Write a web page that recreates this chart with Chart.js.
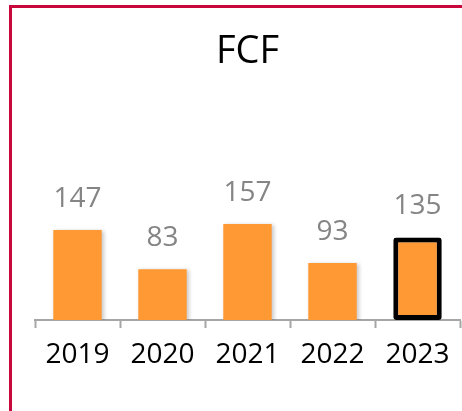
<!DOCTYPE html>
<html>
<head>
<meta charset="utf-8">
<script src="https://cdn.jsdelivr.net/npm/chart.js@4.4.1/dist/chart.umd.min.js"></script>
<style>
  html, body { margin: 0; padding: 0; background: #fff; }
  .wrap { position: relative; width: 462px; height: 411px; }
  .frame {
    position: absolute; left: 9px; top: 5px; right: -5px; bottom: -5px;
    border-left: 3px solid #c8083c; border-top: 3px solid #c8083c;
    pointer-events: none;
  }
  canvas { position: absolute; left: 0; top: 0; }
</style>
</head>
<body>
<div class="wrap">
  <canvas id="fcfChart" width="462" height="411"></canvas>
  <div class="frame"></div>
</div>
<script>
const years = ['2019', '2020', '2021', '2022', '2023'];
const fcfValues = [147, 83, 157, 93, 135];
const highlightYear = '2023';

const FONT = "'Open Sans', sans-serif";

// soft drop shadow under the bars
const barShadow = {
  id: 'barShadow',
  beforeDatasetsDraw(chart) {
    const ctx = chart.ctx;
    ctx.save();
    ctx.shadowColor = 'rgba(0,0,0,0.22)';
    ctx.shadowBlur = 4;
    ctx.shadowOffsetX = 2;
    ctx.shadowOffsetY = 1;
  },
  afterDatasetsDraw(chart) {
    chart.ctx.restore();
  }
};

// value labels above each bar
const valueLabels = {
  id: 'valueLabels',
  afterDraw(chart) {
    const ctx = chart.ctx;
    const meta = chart.getDatasetMeta(0);
    ctx.save();
    ctx.font = '28px ' + FONT;
    ctx.fillStyle = '#858585';
    ctx.textAlign = 'center';
    ctx.textBaseline = 'middle';
    meta.data.forEach((bar, i) => {
      ctx.fillText(String(fcfValues[i]), bar.x, bar.y - 31);
    });
    ctx.restore();
  }
};

new Chart(document.getElementById('fcfChart'), {
  type: 'bar',
  data: {
    labels: years,
    datasets: [{
      data: fcfValues,
      backgroundColor: '#ff9933',
      borderColor: years.map(y => y === highlightYear ? '#000' : 'rgba(0,0,0,0)'),
      borderWidth: years.map(y => y === highlightYear ? 5 : 0),
      borderRadius: years.map(y => y === highlightYear ? 3 : 0),
      borderSkipped: false,
      barPercentage: 0.57,
      categoryPercentage: 1
    }]
  },
  options: {
    responsive: false,
    animation: false,
    layout: { padding: { left: 35, right: 2, top: 0, bottom: 0 } },
    plugins: {
      legend: { display: false },
      tooltip: { enabled: false },
      title: {
        display: true,
        text: 'FCF',
        color: '#000',
        font: { family: FONT, size: 38, weight: 'normal' },
        padding: { top: 29, bottom: 123 }
      }
    },
    scales: {
      x: {
        offset: true,
        grid: {
          offset: true,
          drawOnChartArea: false,
          drawTicks: true,
          tickLength: 8,
          tickWidth: 2,
          color: '#a6a6a6'
        },
        border: { display: true, color: '#a6a6a6', width: 2 },
        ticks: {
          color: '#000',
          padding: 10,
          font: { family: FONT, size: 28 }
        },
        afterFit(scale) { scale.height = 91; }
      },
      y: {
        display: false,
        min: 0,
        max: 200
      }
    }
  },
  plugins: [barShadow, valueLabels]
});
</script>
</body>
</html>
